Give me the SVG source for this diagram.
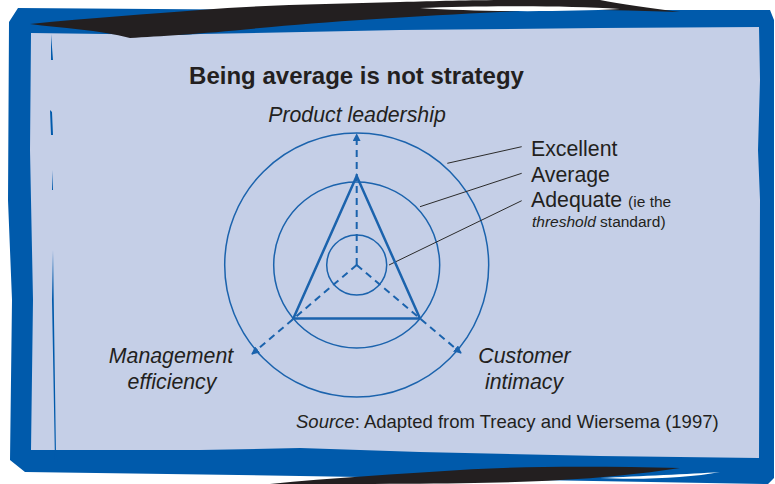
<svg xmlns="http://www.w3.org/2000/svg" width="775" height="484" viewBox="0 0 775 484">
<style>
text{font-family:"Liberation Sans",Arial,sans-serif;fill:#231f20}
.lbl{font-size:21.3px}
.it{font-style:italic}
.circ{fill:none;stroke:#1b63ad;stroke-width:1.5}
.axis{fill:none;stroke:#1b63ad;stroke-width:2;stroke-dasharray:7 5}
.lead{stroke:#2b2b2b;stroke-width:1}
</style>
<defs>
<marker id="ah" viewBox="0 0 10 10" refX="9" refY="5" markerWidth="4" markerHeight="4" orient="auto" markerUnits="strokeWidth">
<path d="M0,0 L10,5 L0,10 z" fill="#1b63ad"/>
</marker>
</defs>
<rect width="775" height="484" fill="#ffffff"/>
<g id="frame">
<path d="M9,22 L18,8 L300,10 L770,10 L774,20 L774,478 L768,484 L300,476 L25,472 L10,460 L12,300 L8,200 Z" fill="#005aab"/>
<path d="M31,33 L180,35 L200,34 L400,30 L600,28 L759,27 L760,80 L758,150 L760,200 L759,458 L600,456 L420,452 L300,448 L200,450 L31,450 L33,300 L30,150 Z" fill="#c5cfe7"/>
<path d="M51,34 L53,60 L51,60 Z M50,110 L52,112 L53,135 L51,135 Z M52,170 L53,190 L52,190 Z M53,250 L56,455 L58,463 L55,463 L52,300 Z" fill="#005aab"/>
<path d="M30,24 C90,18 150,14 200,10 C260,5 330,4 400,2 C440,1 470,0 520,0 L600,0 C620,4 650,8 680,12 C620,10 560,8 500,12 C420,16 320,22 260,28 C200,34 160,36 130,38 C100,30 60,28 30,24 Z" fill="#231f20"/>
<path d="M420,8 C480,6 560,5 620,9 C560,12 480,12 420,8 Z" fill="#ffffff"/>
<path d="M270,484 C330,478 400,474 460,470 C520,466 600,466 680,468 C640,474 600,478 560,480 C500,484 400,484 270,484 Z" fill="#231f20"/>
<path d="M60,476 C120,478 200,480 260,478 C200,482 120,482 60,476 Z M600,478 C640,476 690,474 720,472 C690,478 640,480 600,478 Z" fill="#ffffff"/>
</g>
<g id="title">
<text x="356.5" y="84" text-anchor="middle" style="font-size:24px;font-weight:bold">Being average is not strategy</text>
</g>
<g id="circles">
<circle class="circ" cx="356.7" cy="265" r="132"/>
<circle class="circ" cx="356.7" cy="265" r="83"/>
<circle class="circ" cx="356.7" cy="265" r="30"/>
</g>
<g id="connectors">
<line class="axis" x1="356.7" y1="265" x2="356.7" y2="134" marker-end="url(#ah)"/>
<line class="axis" x1="356.7" y1="265" x2="252" y2="354" marker-end="url(#ah)"/>
<line class="axis" x1="356.7" y1="265" x2="461" y2="353" marker-end="url(#ah)"/>
<line class="lead" x1="447.3" y1="163.3" x2="521.7" y2="146.7"/>
<line class="lead" x1="420" y1="206.7" x2="521.7" y2="173.3"/>
<line class="lead" x1="389" y1="265" x2="521.7" y2="200.7"/>
</g>
<g id="triangle">
<path d="M356.7,176 L293.3,318.5 L420,318.5 Z" fill="none" stroke="#1b63ad" stroke-width="2.5" stroke-linejoin="miter"/>
</g>
<g id="product-leadership">
<text class="lbl it" x="357" y="122" text-anchor="middle">Product leadership</text>
</g>
<g id="management-efficiency">
<text class="lbl it" x="171" y="363" text-anchor="middle">Management</text>
<text class="lbl it" x="172" y="389" text-anchor="middle">efficiency</text>
</g>
<g id="customer-intimacy">
<text class="lbl it" x="524.5" y="363" text-anchor="middle">Customer</text>
<text class="lbl it" x="524" y="389" text-anchor="middle">intimacy</text>
</g>
<g id="legend">
<text class="lbl" x="531" y="156">Excellent</text>
<text class="lbl" x="531" y="182">Average</text>
<text class="lbl" x="531" y="207">Adequate <tspan style="font-size:15.5px">(ie the</tspan></text>
<text x="532" y="226.5" style="font-size:15.5px"><tspan style="font-style:italic">threshold</tspan> standard)</text>
</g>
<g id="source">
<text x="296" y="428" style="font-size:18.5px"><tspan style="font-style:italic">Source</tspan>: Adapted from Treacy and Wiersema (1997)</text>
</g>
</svg>
